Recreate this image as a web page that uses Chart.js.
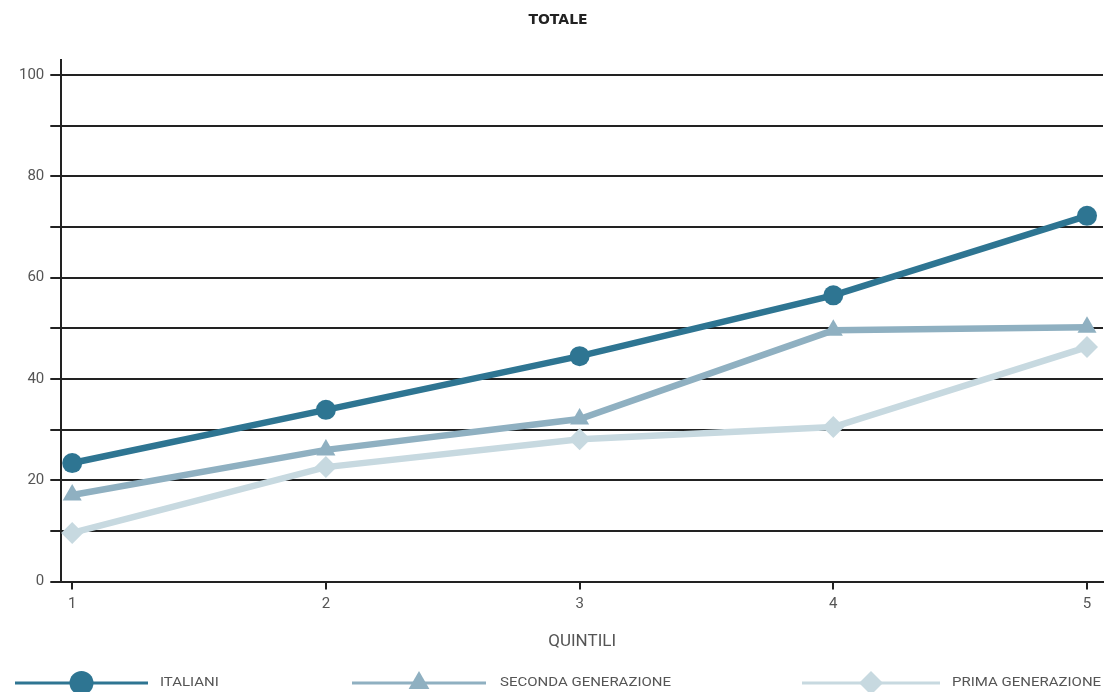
<!DOCTYPE html>
<html>
<head>
<meta charset="utf-8">
<script src="https://cdn.jsdelivr.net/npm/chart.js@4/dist/chart.umd.min.js"></script>
<style>
  html, body { margin: 0; padding: 0; background: #fff; }
  #wrap { width: 1105px; height: 692px; }
</style>
</head>
<body>
<div id="wrap"><canvas id="chart"></canvas></div>
<script>
const quintili = [1, 2, 3, 4, 5];
const seriesNames = ['ITALIANI', 'SECONDA GENERAZIONE', 'PRIMA GENERAZIONE'];
const italiani = [23.4, 33.9, 44.5, 56.5, 72.2];
const secondaGen = [17.1, 26.0, 32.1, 49.6, 50.2];
const primaGen = [9.6, 22.6, 28.1, 30.5, 46.3];
const yTicks = [0, 10, 20, 30, 40, 50, 60, 70, 80, 90, 100];

const colors = ['#2e7592', '#8fb0c1', '#c7d9e0'];
const shapes = ['circle', 'triangle', 'rectRot'];

function toPoints(vals) {
  return vals.map((v, i) => ({ x: quintili[i], y: v }));
}

const datasets = [italiani, secondaGen, primaGen].map((vals, i) => ({
  label: seriesNames[i],
  data: toPoints(vals),
  borderColor: colors[i],
  backgroundColor: colors[i],
  borderWidth: 6.5,
  pointStyle: shapes[i],
  pointRadius: i === 0 ? 10 : 11,
  pointBorderWidth: 0,
  pointHoverRadius: i === 0 ? 10 : 11,
  tension: 0,
  clip: false
})).reverse();

// legend drawn at the bottom: line + marker + text
const bottomLegend = {
  id: 'bottomLegend',
  afterDraw(chart) {
    const ctx = chart.ctx;
    const y = 683;
    const items = [
      { x0: 15, x1: 148, tx: 160 },
      { x0: 352, x1: 486, tx: 500 },
      { x0: 802, x1: 940, tx: 952 }
    ];
    ctx.save();
    items.forEach((it, i) => {
      ctx.strokeStyle = colors[i];
      ctx.lineWidth = 3;
      ctx.beginPath();
      ctx.moveTo(it.x0, y);
      ctx.lineTo(it.x1, y);
      ctx.stroke();
      ctx.fillStyle = colors[i];
      ctx.strokeStyle = colors[i];
      Chart.helpers.drawPoint(ctx, {
        pointStyle: shapes[i], radius: 12, borderWidth: 0, rotation: 0
      }, (it.x0 + it.x1) / 2, y);
      ctx.save();
      ctx.fillStyle = '#555';
      ctx.font = '12px Roboto';
      ctx.textBaseline = 'middle';
      ctx.textAlign = 'left';
      ctx.translate(it.tx, y);
      ctx.scale(1.25, 1);
      ctx.fillText(seriesNames[i], 0, 0);
      ctx.restore();
    });
    ctx.restore();
  }
};

new Chart(document.getElementById('chart'), {
  type: 'line',
  data: { datasets },
  plugins: [bottomLegend],
  options: {
    responsive: true,
    maintainAspectRatio: false,
    animation: false,
    events: [],
    layout: { autoPadding: false, padding: { left: 13, right: 2, top: 0, bottom: 40 } },
    plugins: {
      legend: { display: false },
      tooltip: { enabled: false },
      title: {
        display: true,
        text: 'TOTALE',
        color: '#222',
        font: { family: 'DejaVu Sans', size: 14, weight: 'bold' },
        padding: { top: 12, bottom: 31 }
      }
    },
    scales: {
      x: {
        type: 'linear',
        min: 0.957,
        max: 5.063,
        afterBuildTicks: axis => { axis.ticks = quintili.map(v => ({ value: v })); },
        afterFit: s => { s.paddingRight = 0; s.paddingLeft = 0; },
        grid: { display: true, drawOnChartArea: false, drawTicks: true, tickLength: 8, color: '#222', lineWidth: 2 },
        border: { display: true, color: '#222', width: 2 },
        ticks: { color: '#555', font: { family: 'Roboto', size: 15 }, padding: 6 },
        title: {
          display: true,
          text: 'QUINTILI',
          color: '#555',
          font: { family: 'Roboto', size: 17 },
          padding: { top: 12, bottom: 0 }
        }
      },
      y: {
        min: 0,
        max: 103,
        afterBuildTicks: axis => { axis.ticks = yTicks.map(v => ({ value: v })); },
        grid: { color: '#222', lineWidth: 2, tickLength: 11, drawTicks: true },
        border: { display: true, color: '#222', width: 2 },
        ticks: {
          color: '#555',
          font: { family: 'Roboto', size: 15 },
          padding: 6,
          callback: v => (v % 20 === 0 ? v : '')
        }
      }
    }
  }
});
</script>
</body>
</html>
